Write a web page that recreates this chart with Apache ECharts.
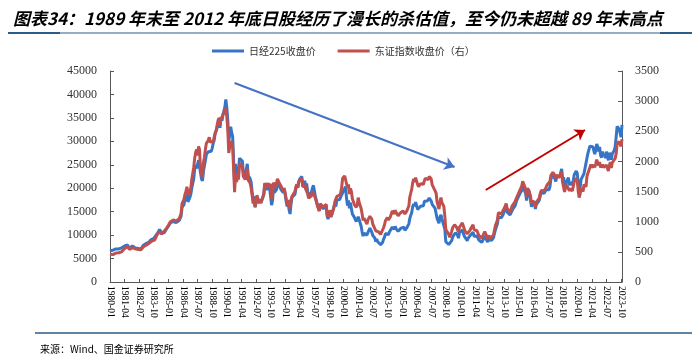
<!DOCTYPE html>
<html><head><meta charset="utf-8">
<script src="https://cdn.jsdelivr.net/npm/echarts@6/dist/echarts.min.js"></script>
<style>html,body{margin:0;padding:0;background:#fff}#c{width:700px;height:359px}</style>
</head><body><div id="c"></div>
<script>
// Nikkei 225 monthly close (left axis)
const nikkei1980s = [
6650,6760,6600,6780,6960,6950,7060,7030,6980,7050,7230,7116,
7300,7400,7500,7700,7650,7700,7900,7950,7150,7500,7550,7682,
7750,7500,7250,7450,7400,7150,7050,6950,7050,7300,7800,8017,
8100,8200,8400,8500,8500,8800,9000,9100,9400,9300,9500,9894,
10300,10500,10900,11200,10800,10300,10200,10500,10600,10900,11300,11543,
11900,12100,12600,12450,12700,12900,12500,12700,12700,12600,12900,13113,
13100,14000,15900,15800,16500,17600,17600,18600,17100,16900,18000,18701,
20000,21000,22000,24000,25000,24200,24500,26000,26000,23300,22000,21564,
23600,24800,25900,27200,27400,27800,28000,27400,27900,28500,29600,30159,
31600,32000,32800,33700,34300,32900,34900,34400,35600,35500,37300,38916];
const nikkei1990s = [
37200,34600,29900,29600,33100,31900,31000,25900,20984,25200,22500,23849,
23300,26400,26300,26100,25800,23300,23300,22300,23900,25200,22700,22984,
22000,21300,19300,17400,18300,15900,15900,18000,17400,16800,17700,16925,
17000,16900,18600,20900,20600,19600,20400,21000,20100,19700,16400,17417,
20200,19100,19100,19700,20900,21500,20500,20600,19600,19990,19100,19723,
18600,17100,16100,16800,15400,14500,16700,18100,17900,17700,18700,19868,
20800,20100,21400,22000,21900,22500,20700,20200,21600,20500,21000,19361,
18300,18600,18000,19200,20100,20600,20300,18200,17900,16500,16600,15259,
16600,16800,16500,15600,15700,15800,16400,14100,13400,13600,14900,13842,
14500,14400,16000,16700,16100,17500,17900,17400,17600,17900,18600,18934];
const nikkei2000s = [
19500,19900,20300,17900,16300,17400,15700,16900,15700,14500,14600,13786,
13800,12900,13000,13900,13300,12900,11900,10700,9800,10400,10700,10543,
9998,10600,11000,11500,11700,10600,9900,9600,9400,8600,9200,8579,
8340,8360,7970,7830,8420,9080,9560,10340,10220,10560,10100,10677,
10780,11040,11700,11760,11240,11860,11330,11080,10820,10770,10900,11489,
11390,11740,11670,11010,11280,11580,11900,12410,13570,13610,14870,16111,
16650,16200,17060,16900,15470,15500,15460,16140,16130,16400,16270,17226,
17380,17600,17290,17400,17880,18140,17250,16570,16790,16740,15680,15308,
13590,13600,12530,13850,14340,13480,13380,13070,11260,8580,8510,8860,
7990,7570,8110,8830,9520,9960,10360,10490,10130,10030,9350,10546];
const nikkei2010s = [
10200,10130,11090,11060,9770,9380,9540,8820,9370,9200,9940,10229,
10240,10620,9760,9850,9690,9820,9830,8960,8700,8990,8430,8455,
8800,9720,10080,9520,8540,9010,8700,8840,8870,8930,9450,10395,
11140,11560,12400,13860,13770,13680,13670,13390,14460,14330,15660,16291,
14910,14840,14830,14300,14630,15160,15620,15420,16170,16410,17460,17451,
17670,18800,19210,19520,20560,20240,20590,18890,17390,19080,19750,19034,
17520,16030,16760,16670,17230,15580,16570,16890,16450,17430,18310,19114,
19040,19120,18910,19200,19650,20030,19930,19650,20360,22010,22720,22765,
23100,22070,21450,22470,22200,22300,22550,22870,24120,21920,22350,20015,
20770,21390,21210,22260,20600,21280,21520,20700,21760,22930,23290,23657];
const nikkei2020s = [
23200,21140,18920,20190,21880,22290,21710,23140,23190,22980,26430,27444,
27660,28970,29180,28810,28860,28790,27280,28090,29450,28890,27820,28792,
27000,26530,27820,26850,27280,26390,27800,28090,25940,27590,27970,26095,
27330,27450,28040,28860,30890,33190,33170,32620,31860,30860,33490];

// TOPIX monthly close (right axis)
const topix1980s = [
460,465,450,455,465,470,480,478,478,485,490,494,
500,510,525,555,560,575,590,600,540,565,570,570,
580,560,550,555,555,540,540,530,535,560,580,594,
600,610,620,630,640,660,670,680,690,690,700,732,
770,790,830,860,820,800,790,830,850,870,890,913,
940,960,1000,990,1010,1030,1000,1020,1010,1020,1040,1049,
1060,1130,1300,1300,1370,1450,1500,1580,1470,1430,1510,1556,
1700,1800,1900,2050,2150,2200,2100,2250,2200,1850,1800,1726,
1980,2070,2200,2300,2330,2350,2400,2320,2330,2350,2330,2357,
2470,2510,2600,2680,2720,2600,2740,2700,2780,2760,2820,2881];
const topix1990s = [
2740,2530,2140,2130,2340,2330,2250,1860,1490,1800,1660,1734,
1700,1930,1970,1950,1900,1750,1760,1700,1820,1880,1690,1715,
1640,1560,1440,1300,1390,1250,1230,1440,1380,1310,1370,1308,
1300,1300,1460,1640,1630,1560,1640,1670,1580,1630,1380,1439,
1650,1610,1570,1630,1710,1710,1640,1640,1580,1580,1520,1559,
1470,1380,1280,1360,1260,1220,1360,1420,1450,1420,1500,1578,
1620,1580,1670,1700,1690,1720,1580,1550,1620,1540,1570,1471,
1390,1400,1380,1430,1510,1540,1520,1390,1370,1270,1290,1175,
1300,1300,1280,1240,1240,1250,1290,1130,1080,1100,1190,1087,
1130,1110,1230,1330,1300,1420,1420,1420,1440,1480,1570,1722];
const topix2000s = [
1720,1760,1700,1630,1560,1620,1460,1550,1500,1380,1390,1284,
1310,1240,1280,1400,1320,1300,1220,1130,1020,1060,1040,1032,
960,1030,1060,1090,1120,1040,960,950,930,850,880,843,
830,830,790,790,820,900,950,1020,1020,1070,1030,1044,
1080,1110,1180,1180,1130,1190,1150,1150,1100,1110,1140,1150,
1150,1180,1180,1130,1150,1180,1210,1260,1410,1440,1540,1650,
1710,1660,1730,1720,1620,1580,1560,1630,1610,1620,1620,1681,
1720,1750,1710,1700,1750,1770,1710,1610,1620,1590,1510,1476,
1330,1340,1210,1330,1400,1320,1290,1250,1090,870,840,859,
790,740,770,840,900,930,950,970,910,890,830,908];
const topix2010s = [
900,890,980,990,880,840,850,800,830,810,860,899,
910,950,870,850,840,850,840,770,760,760,730,729,
760,835,855,810,720,770,740,730,740,740,780,860,
940,980,1030,1150,1130,1130,1130,1110,1190,1190,1260,1302,
1220,1210,1200,1160,1200,1260,1290,1280,1330,1330,1410,1408,
1420,1520,1540,1590,1670,1630,1660,1540,1410,1560,1580,1547,
1430,1300,1350,1340,1380,1250,1320,1330,1320,1390,1470,1519,
1520,1540,1510,1530,1570,1610,1620,1620,1670,1770,1790,1818,
1840,1770,1720,1780,1750,1730,1750,1740,1820,1650,1670,1494,
1570,1610,1590,1620,1510,1550,1560,1510,1590,1670,1700,1721];
const topix2020s = [
1680,1510,1400,1460,1560,1560,1500,1620,1630,1580,1750,1805,
1810,1900,1950,1900,1920,1940,1900,1960,2030,2000,1930,1992,
1900,1890,1950,1900,1910,1870,1940,1960,1840,1930,1990,1892,
1980,1990,2000,2050,2130,2290,2320,2330,2320,2250,2370];

// arrows [startMonth, startValue(left axis), endMonth, endValue(left axis)]
const downArrow = ['1990-09', 42450, '2009-07', 24530];
const upArrow = ['2012-03', 19620, '2020-09', 32420];

const startYear = 1980, endYear = 2023, endMonth = 11;
const months = [];
for (let y = startYear; y <= endYear; y++) {
  for (let m = 1; m <= 12; m++) {
    if (y === endYear && m > endMonth) break;
    months.push(y + '-' + (m < 10 ? '0' + m : m));
  }
}
const nikkei = [].concat(nikkei1980s, nikkei1990s, nikkei2000s, nikkei2010s, nikkei2020s);
const topix = [].concat(topix1980s, topix1990s, topix2000s, topix2010s, topix2020s);

const leftTicks = {min: 0, max: 45000, interval: 5000};
const rightTicks = {min: 0, max: 3500, interval: 500};

const axisColor = '#595959';
const serif = 'Liberation Serif';
const cjk = 'Noto Sans CJK SC';
const plain = v => String(v);

const chart = echarts.init(document.getElementById('c'), null, {renderer: 'canvas'});
chart.setOption({
  animation: false,
  backgroundColor: '#fff',
  title: [{
    text: '图表34：1989 年末至 2012 年底日股经历了漫长的杀估值，至今仍未超越 89 年末高点',
    left: 8, top: 5,
    textStyle: {fontFamily: cjk, fontSize: 17, fontWeight: 'bold', fontStyle: 'italic', color: '#000'}
  }, {
    text: '来源：Wind、国金证券研究所',
    left: 35, top: 339,
    textStyle: {fontFamily: cjk, fontSize: 10, fontWeight: 'normal', color: '#000'}
  }],
  graphic: [
    {type: 'line', shape: {x1: 8, y1: 33, x2: 692, y2: 33}, style: {stroke: '#2b5d86', lineWidth: 1}},
    {type: 'line', shape: {x1: 8, y1: 33, x2: 60, y2: 33}, style: {stroke: '#2b5d86', lineWidth: 2}},
    {type: 'line', shape: {x1: 660, y1: 33, x2: 692, y2: 33}, style: {stroke: '#2b5d86', lineWidth: 2}},
    {type: 'line', shape: {x1: 35, y1: 333, x2: 692, y2: 333}, style: {stroke: '#2b5d86', lineWidth: 1.5}}
  ],
  legend: {
    left: 207, top: 41,
    icon: 'rect', itemWidth: 32, itemHeight: 3, itemGap: 22,
    textStyle: {fontFamily: cjk, fontSize: 10, color: '#333'},
    data: ['日经225收盘价', '东证指数收盘价（右）']
  },
  grid: {left: 110, right: 78, top: 71, bottom: 77, containLabel: false, outerBoundsMode: 'none'},
  xAxis: {
    type: 'category', data: months, boundaryGap: false,
    axisLine: {lineStyle: {color: axisColor, width: 1}},
    axisTick: {inside: true, length: 3, interval: 14, alignWithLabel: true, lineStyle: {color: axisColor}},
    axisLabel: {interval: 14, rotate: -90, margin: 4, fontFamily: serif, fontSize: 9.5, color: '#000'},
    splitLine: {show: false}
  },
  yAxis: [{
    type: 'value', min: leftTicks.min, max: leftTicks.max, interval: leftTicks.interval,
    axisLine: {show: true, lineStyle: {color: axisColor, width: 1}},
    axisTick: {show: true, inside: true, length: 4, lineStyle: {color: axisColor}},
    axisLabel: {margin: 13, fontFamily: serif, fontSize: 12, color: '#333', formatter: plain},
    splitLine: {show: false}
  }, {
    type: 'value', min: rightTicks.min, max: rightTicks.max, interval: rightTicks.interval,
    axisLine: {show: true, lineStyle: {color: axisColor, width: 1}},
    axisTick: {show: true, inside: true, length: 4, lineStyle: {color: axisColor}},
    axisLabel: {margin: 13, fontFamily: serif, fontSize: 12, color: '#333', formatter: plain},
    splitLine: {show: false}
  }],
  series: [{
    name: '日经225收盘价', type: 'line', yAxisIndex: 0, data: nikkei,
    showSymbol: false, symbol: 'none', color: '#3575C8',
    lineStyle: {width: 3, color: '#3575C8'},
    markLine: {
      silent: true, symbol: ['none', 'arrow'], symbolSize: 10,
      label: {show: false},
      data: [
        [{coord: [downArrow[0], downArrow[1]], lineStyle: {color: '#4472C4', width: 2, type: 'solid'}},
         {coord: [downArrow[2], downArrow[3]]}],
        [{coord: [upArrow[0], upArrow[1]], lineStyle: {color: '#C00000', width: 2, type: 'solid'}},
         {coord: [upArrow[2], upArrow[3]]}]
      ]
    }
  }, {
    name: '东证指数收盘价（右）', type: 'line', yAxisIndex: 1, data: topix,
    showSymbol: false, symbol: 'none', color: '#C0504D',
    lineStyle: {width: 3, color: '#C0504D'}
  }]
});
</script></body></html>
